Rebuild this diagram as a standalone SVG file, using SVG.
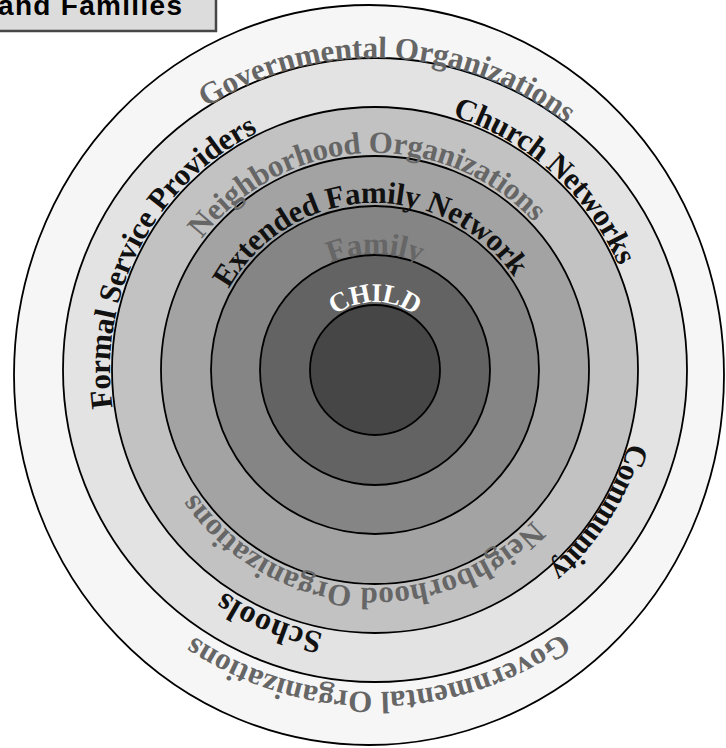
<svg xmlns="http://www.w3.org/2000/svg" width="726" height="748" viewBox="0 0 726 748">
<style>
.ring{stroke:#000;stroke-width:1.8}
.lbl{font-family:"Liberation Serif","Times New Roman",serif;font-weight:bold;font-size:31px}
.blk{fill:#111}
.gry{fill:#666}
.wht{fill:#fff}
</style>
<defs>
<path id="pGovTop" d="M63.30,356.39 A312,312 0 0 1 388.61,58.30 A312,312 0 0 1 686.70,383.61"/>
<path id="pGovBot" d="M696.98,366.63 A322,322 0 0 1 378.37,691.98 A322,322 0 0 1 53.02,373.37"/>
<path id="pChurch" d="M292.67,118.11 A265,265 0 0 1 551.97,172.76 A265,265 0 0 1 634.31,424.64"/>
<path id="pFormal" d="M178.69,548.01 A265,265 0 0 1 140.59,246.41 A265,265 0 0 1 410.97,107.45"/>
<path id="pCommunity" d="M636.68,335.08 A264,264 0 0 1 597.90,511.46 A264,264 0 0 1 454.83,621.64"/>
<path id="pSchools" d="M410.21,636.03 A268,268 0 0 1 270.28,616.70 A268,268 0 0 1 160.96,532.07"/>
<path id="pNeighTop" d="M159.66,343.18 A217,217 0 0 1 364.02,153.28 A217,217 0 0 1 586.52,321.55"/>
<path id="pNeighBot" d="M585.96,424.95 A218,218 0 0 1 357.52,587.30 A218,218 0 0 1 157.97,390.52"/>
<path id="pExtended" d="M209.47,347.91 A167,167 0 0 1 368.01,203.15 A167,167 0 0 1 538.10,334.14"/>
<path id="pFamily" d="M266.00,330.33 A116,116 0 0 1 375,254 A116,116 0 0 1 484.00,330.33"/>
<path id="pChild" d="M308.03,358.19 A68,68 0 0 1 375,302 A68,68 0 0 1 441.97,358.19"/>
</defs>
<rect width="726" height="748" fill="#fff"/>
<g id="title">
<rect x="-6" y="-6" width="222" height="37" fill="#dcdcdc" stroke="#474747" stroke-width="2.5"/>
<text x="-2" y="15" font-family="Liberation Sans, Arial, sans-serif" font-weight="bold" font-size="28" fill="#000" textLength="184" lengthAdjust="spacing">and Families</text>
</g>
<g id="rings">
<ellipse id="governmental" class="ring" cx="369" cy="375" rx="355" ry="370" fill="#f6f6f6"/>
<circle id="community" class="ring" cx="375" cy="370" r="312" fill="#e3e3e3"/>
<circle id="neighborhood" class="ring" cx="375" cy="370" r="263" fill="#c2c2c2"/>
<circle id="extended-family" class="ring" cx="375" cy="370" r="214" fill="#a3a3a3"/>
<circle id="family" class="ring" cx="375" cy="370" r="164" fill="#858585"/>
<circle id="child-ring" class="ring" cx="375" cy="370" r="115" fill="#636363"/>
<circle id="child" class="ring" cx="375" cy="370" r="65" fill="#464646"/>
</g>
<g id="labels">
<text class="lbl gry"><textPath href="#pGovTop" startOffset="50%" text-anchor="middle" textLength="384" lengthAdjust="spacing">Governmental Organizations</textPath></text>
<text class="lbl gry"><textPath href="#pGovBot" startOffset="50%" text-anchor="middle" textLength="391" lengthAdjust="spacing">Governmental Organizations</textPath></text>
<text class="lbl blk"><textPath href="#pChurch" startOffset="50%" text-anchor="middle" textLength="231" lengthAdjust="spacing">Church Networks</textPath></text>
<text class="lbl blk"><textPath href="#pFormal" startOffset="50%" text-anchor="middle" textLength="333" lengthAdjust="spacing">Formal Service Providers</textPath></text>
<text class="lbl blk"><textPath href="#pCommunity" startOffset="50%" text-anchor="middle" textLength="152" lengthAdjust="spacing">Community</textPath></text>
<text class="lbl blk" style="font-size:32px"><textPath href="#pSchools" startOffset="50%" text-anchor="middle" textLength="108" lengthAdjust="spacing">Schools</textPath></text>
<text class="lbl gry"><textPath href="#pNeighTop" startOffset="50%" text-anchor="middle" textLength="379" lengthAdjust="spacing">Neighborhood Organizations</textPath></text>
<text class="lbl gry"><textPath href="#pNeighBot" startOffset="50%" text-anchor="middle" textLength="388" lengthAdjust="spacing">Neighborhood Organizations</textPath></text>
<text class="lbl blk"><textPath href="#pExtended" startOffset="50%" text-anchor="middle" textLength="342" lengthAdjust="spacing">Extended Family Network</textPath></text>
<text class="lbl gry"><textPath href="#pFamily" startOffset="50%" text-anchor="middle" textLength="92" lengthAdjust="spacing">Family</textPath></text>
<text class="lbl wht" style="font-size:27px"><textPath href="#pChild" startOffset="50%" text-anchor="middle" textLength="86" lengthAdjust="spacing">CHILD</textPath></text>
</g>
</svg>
